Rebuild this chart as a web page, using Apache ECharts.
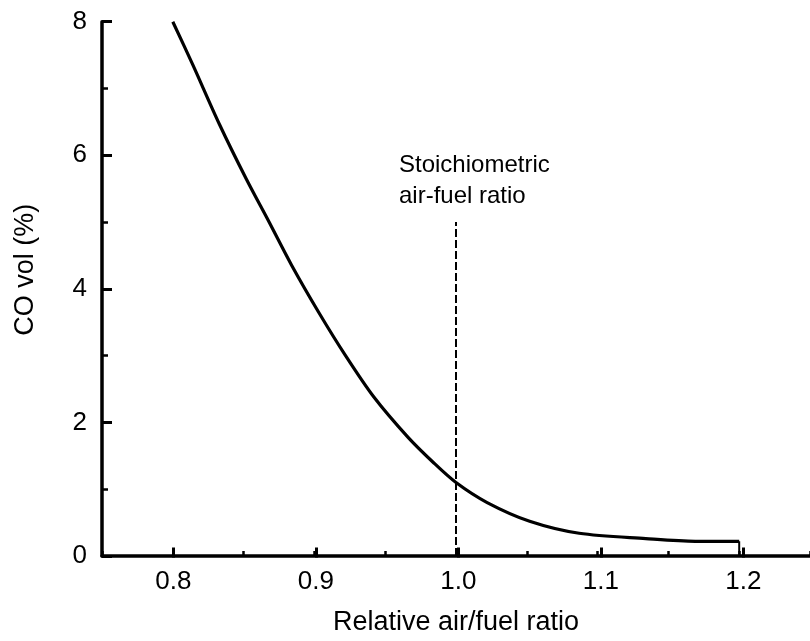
<!DOCTYPE html>
<html>
<head>
<meta charset="utf-8">
<script src="https://cdn.jsdelivr.net/npm/echarts@6/dist/echarts.min.js"></script>
<style>
html,body{margin:0;padding:0;background:#fff;}
#chart{width:810px;height:641px;}
</style>
</head>
<body>
<div id="chart"></div>
<script>
// Relative air/fuel ratio (lambda)
var lambdaValues = [0.8, 0.814, 0.833, 0.852, 0.868, 0.884, 0.903, 0.922, 0.942, 0.966, 0.984, 1.0, 1.022, 1.052, 1.087, 1.134, 1.169, 1.2];
// CO volume (%)
var coValues = [8.0, 7.36, 6.46, 5.64, 5.0, 4.35, 3.65, 3.0, 2.38, 1.78, 1.40, 1.1, 0.80, 0.52, 0.34, 0.26, 0.22, 0.22];
// closing vertical segment at the end of the curve
var endLambda = [1.2, 1.2];
var endCo = [0.22, 0];
// stoichiometric marker
var stoichLambda = 1.0;
var stoichTop = 5.0;
var xTickLabels = ['0.8', '0.9', '1.0', '1.1', '1.2'];
var yTickLabels = ['0', '2', '4', '6', '8'];
var annotationText = 'Stoichiometric\nair-fuel ratio';

var FONT = '"Liberation Sans", Arial, Helvetica, sans-serif';
var chart = echarts.init(document.getElementById('chart'));

var curveData = lambdaValues.map(function (x, i) { return [x, coValues[i]]; });
var endData = endLambda.map(function (x, i) { return [x, endCo[i]]; });

var option = {
  animation: false,
  backgroundColor: '#ffffff',
  grid: [
    { left: 102, right: -4, top: 21.7, bottom: 83.5, containLabel: false },
    { left: 173.3, right: 66.7, top: 21.7, bottom: 83.5, containLabel: false }
  ],
  xAxis: [
    {
      type: 'value', gridIndex: 0, min: 0.75, max: 1.25, interval: 0.05,
      splitLine: { show: false },
      axisLine: { show: true, lineStyle: { color: '#000', width: 3.5 } },
      axisTick: { show: true, inside: true, length: 5, lineStyle: { color: '#000', width: 2.5 } },
      axisLabel: { show: false },
      name: 'Relative air/fuel ratio', nameLocation: 'middle', nameGap: 53,
      nameTextStyle: { fontFamily: FONT, fontSize: 27, color: '#000' }
    },
    {
      type: 'value', gridIndex: 1, min: 0.8, max: 1.2, interval: 0.1,
      splitLine: { show: false },
      axisLine: { show: false },
      axisTick: { show: true, inside: true, length: 10, lineStyle: { color: '#000', width: 3 } },
      axisLabel: {
        show: true, margin: 11, fontFamily: FONT, fontSize: 26, color: '#000',
        formatter: function (v) {
          var idx = Math.round((v - 0.8) / 0.1);
          return xTickLabels[idx] !== undefined ? xTickLabels[idx] : '';
        }
      }
    }
  ],
  yAxis: [
    {
      type: 'value', gridIndex: 0, min: 0, max: 8, interval: 2,
      splitLine: { show: false },
      axisLine: { show: true, lineStyle: { color: '#000', width: 3.5 } },
      axisTick: { show: true, inside: true, length: 10, lineStyle: { color: '#000', width: 3 } },
      minorTick: { show: true, splitNumber: 2, length: 6, lineStyle: { color: '#000', width: 2.5 } },
      minorSplitLine: { show: false },
      axisLabel: {
        margin: 15, fontFamily: FONT, fontSize: 26, color: '#000',
        formatter: function (v) {
          var idx = Math.round(v / 2);
          return yTickLabels[idx] !== undefined ? yTickLabels[idx] : '';
        }
      },
      name: 'CO vol (%)', nameLocation: 'middle', nameGap: 63, nameRotate: 90,
      nameTextStyle: { fontFamily: FONT, fontSize: 27, color: '#000', padding: [0, 0, 0, 38] }
    },
    { type: 'value', gridIndex: 1, min: 0, max: 8, show: false }
  ],
  series: [
    {
      type: 'line', xAxisIndex: 0, yAxisIndex: 0,
      data: curveData, smooth: 0.3, symbol: 'none',
      lineStyle: { color: '#000', width: 3.2 },
      markLine: {
        silent: true, symbol: ['none', 'none'],
        label: { show: false },
        lineStyle: { color: '#000', width: 2, type: [8, 3] },
        data: [[{ coord: [stoichLambda, 0] }, { coord: [stoichLambda, stoichTop] }]]
      }
    },
    {
      type: 'line', xAxisIndex: 0, yAxisIndex: 0,
      data: endData, symbol: 'none',
      lineStyle: { color: '#000', width: 2 }
    }
  ]
};
chart.setOption(option);

var stoichPx = chart.convertToPixel({ xAxisIndex: 0, yAxisIndex: 0 }, [stoichLambda, stoichTop]);
chart.setOption({
  graphic: [{
    type: 'text',
    x: stoichPx[0] - 57, y: stoichPx[1] - 72,
    style: {
      text: annotationText, fontFamily: FONT, fontSize: 24, fill: '#000',
      lineHeight: 31, textAlign: 'left', textVerticalAlign: 'top'
    }
  }]
});
</script>
</body>
</html>
